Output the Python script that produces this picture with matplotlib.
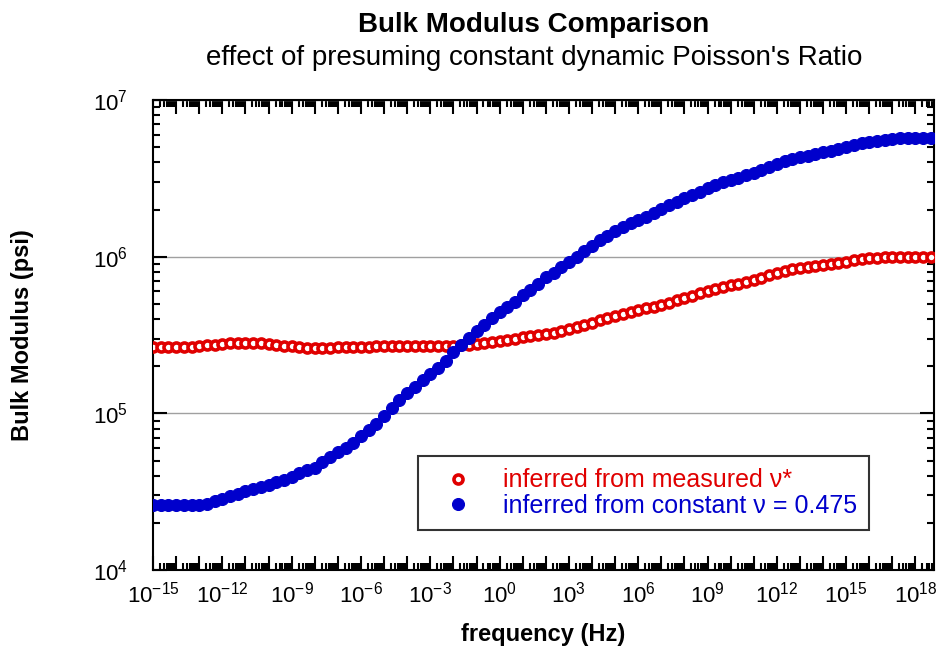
import numpy as np
import matplotlib.pyplot as plt
from matplotlib.ticker import FixedLocator, FuncFormatter, NullFormatter

plt.rcParams['font.family'] = ['Liberation Sans', 'DejaVu Sans']
plt.rcParams['mathtext.fontset'] = 'custom'
plt.rcParams['mathtext.rm'] = 'Liberation Sans'

# frequency grid: one reading every 1/3 decade, 1e-15 .. 1e18.67 Hz
freq = np.logspace(-15, -15 + 101 / 3, 102)

# bulk modulus from measured poisson ratio (psi)
k_measured = [
    2.65e5, 2.65e5, 2.65e5, 2.65e5, 2.65e5, 2.65e5, 2.69e5, 2.73e5, 2.73e5, 2.77e5,
    2.81e5, 2.81e5, 2.81e5, 2.81e5, 2.81e5, 2.77e5, 2.73e5, 2.69e5, 2.69e5, 2.65e5,
    2.62e5, 2.62e5, 2.62e5, 2.62e5, 2.65e5, 2.65e5, 2.65e5, 2.65e5, 2.65e5, 2.69e5,
    2.69e5, 2.69e5, 2.69e5, 2.69e5, 2.69e5, 2.69e5, 2.69e5, 2.69e5, 2.69e5, 2.69e5,
    2.73e5, 2.73e5, 2.77e5, 2.81e5, 2.86e5, 2.90e5, 2.94e5, 2.99e5, 3.07e5, 3.12e5,
    3.17e5, 3.21e5, 3.26e5, 3.36e5, 3.46e5, 3.56e5, 3.67e5, 3.78e5, 3.95e5, 4.06e5,
    4.19e5, 4.31e5, 4.44e5, 4.57e5, 4.71e5, 4.78e5, 4.92e5, 5.06e5, 5.30e5, 5.45e5,
    5.61e5, 5.87e5, 6.04e5, 6.22e5, 6.41e5, 6.60e5, 6.70e5, 6.90e5, 7.10e5, 7.31e5,
    7.64e5, 7.87e5, 8.10e5, 8.35e5, 8.47e5, 8.60e5, 8.72e5, 8.85e5, 8.98e5, 9.12e5,
    9.25e5, 9.53e5, 9.67e5, 9.81e5, 9.81e5, 9.96e5, 9.96e5, 9.96e5, 9.96e5, 9.96e5,
    9.96e5, 9.96e5,
]

# bulk modulus from constant poisson ratio 0.475 (psi)
k_constant = [
    2.60e4, 2.60e4, 2.60e4, 2.60e4, 2.60e4, 2.60e4, 2.60e4, 2.64e4, 2.76e4, 2.84e4,
    2.97e4, 3.06e4, 3.20e4, 3.29e4, 3.39e4, 3.49e4, 3.65e4, 3.75e4, 3.93e4, 4.17e4,
    4.35e4, 4.48e4, 4.90e4, 5.27e4, 5.68e4, 6.01e4, 6.47e4, 7.18e4, 7.83e4, 8.55e4,
    9.62e4, 1.08e5, 1.22e5, 1.35e5, 1.47e5, 1.63e5, 1.78e5, 1.95e5, 2.16e5, 2.47e5,
    2.73e5, 3.03e5, 3.36e5, 3.66e5, 4.06e5, 4.44e5, 4.78e5, 5.14e5, 5.70e5, 6.13e5,
    6.70e5, 7.42e5, 7.87e5, 8.60e5, 9.25e5, 9.96e5, 1.09e6, 1.17e6, 1.28e6, 1.36e6,
    1.46e6, 1.55e6, 1.64e6, 1.72e6, 1.79e6, 1.90e6, 2.02e6, 2.14e6, 2.24e6, 2.37e6,
    2.48e6, 2.59e6, 2.74e6, 2.87e6, 3.00e6, 3.09e6, 3.18e6, 3.32e6, 3.42e6, 3.57e6,
    3.74e6, 3.90e6, 4.08e6, 4.20e6, 4.33e6, 4.39e6, 4.52e6, 4.66e6, 4.73e6, 4.87e6,
    5.01e6, 5.16e6, 5.31e6, 5.40e6, 5.48e6, 5.56e6, 5.64e6, 5.72e6, 5.72e6, 5.72e6,
    5.72e6, 5.72e6,
]

labels = ['inferred from measured \u03bd*', 'inferred from constant \u03bd = 0.475']
red = '#e00000'
blue = '#0000cc'

fig = plt.figure(figsize=(9.4, 6.49), dpi=100)
ax = fig.add_axes([0.1628, 0.1217, 0.8308, 0.7242])

ax.plot(freq, k_measured, 'o', ms=6.5, mfc='white', mec=red, mew=2.6,
        linestyle='none', label=labels[0], zorder=3)
ax.plot(freq, k_constant, 'o', ms=8.6, mfc=blue, mec=blue, mew=0.8,
        linestyle='none', label=labels[1], zorder=3)

ax.set_xscale('log')
ax.set_yscale('log')
ax.set_xlim(1e-15, 10 ** 18.8)
ax.set_ylim(1e4, 1e7)

# ticks: every decade, labels every third decade on x
xmaj = [10.0 ** k for k in range(-15, 19)]
xmin = [m * 10.0 ** k for k in range(-15, 19) for m in range(2, 10)]
ax.xaxis.set_major_locator(FixedLocator(xmaj))
ax.xaxis.set_minor_locator(FixedLocator(xmin))

def xfmt(v, pos):
    e = int(round(np.log10(v)))
    if e % 3 != 0:
        return ''
    return r'$\mathregular{10^{%d}}$' % e

ax.xaxis.set_major_formatter(FuncFormatter(xfmt))
ax.xaxis.set_minor_formatter(NullFormatter())

ymaj = [1e4, 1e5, 1e6, 1e7]
ymin = [m * 10.0 ** k for k in range(4, 7) for m in range(2, 10)]
ax.yaxis.set_major_locator(FixedLocator(ymaj))
ax.yaxis.set_minor_locator(FixedLocator(ymin))
ax.yaxis.set_major_formatter(FuncFormatter(lambda v, p: r'$\mathregular{10^{%d}}$' % int(round(np.log10(v)))))
ax.yaxis.set_minor_formatter(NullFormatter())

ax.tick_params(which='both', direction='in', top=True, right=True, width=1.5, color='black')
ax.tick_params(which='major', length=10, labelsize=16)
ax.tick_params(which='minor', length=5)
ax.tick_params(axis='x', which='major', pad=8)
ax.tick_params(axis='y', which='major', pad=18)

for s in ax.spines.values():
    s.set_linewidth(1.5)
    s.set_color('black')

ax.grid(axis='y', which='major', color='#a0a0a0', linewidth=1)
ax.set_axisbelow(True)

ax.set_xlabel('frequency (Hz)', fontsize=17, fontweight='bold')
ax.xaxis.set_label_coords(0.5, -0.112)
ax.set_ylabel('Bulk Modulus (psi)', fontsize=17, fontweight='bold')
ax.yaxis.set_label_coords(-0.152, 0.5)

fig.text(0.568, 0.962, 'Bulk Modulus Comparison', ha='center', va='center',
         fontsize=20, fontweight='bold')
fig.text(0.568, 0.91, "effect of presuming constant dynamic Poisson's Ratio",
         ha='center', va='center', fontsize=20)

leg = ax.legend(loc='lower left', bbox_to_anchor=(0.339, 0.085), fontsize=18,
                labelcolor=[red, blue], frameon=True, fancybox=False,
                edgecolor='black', borderpad=0.5, handletextpad=0.7,
                labelspacing=0.05, borderaxespad=0, handlelength=2.2,
                markerscale=1.0)
leg.get_frame().set_linewidth(1.5)

fig.savefig('out.png', dpi=100)
